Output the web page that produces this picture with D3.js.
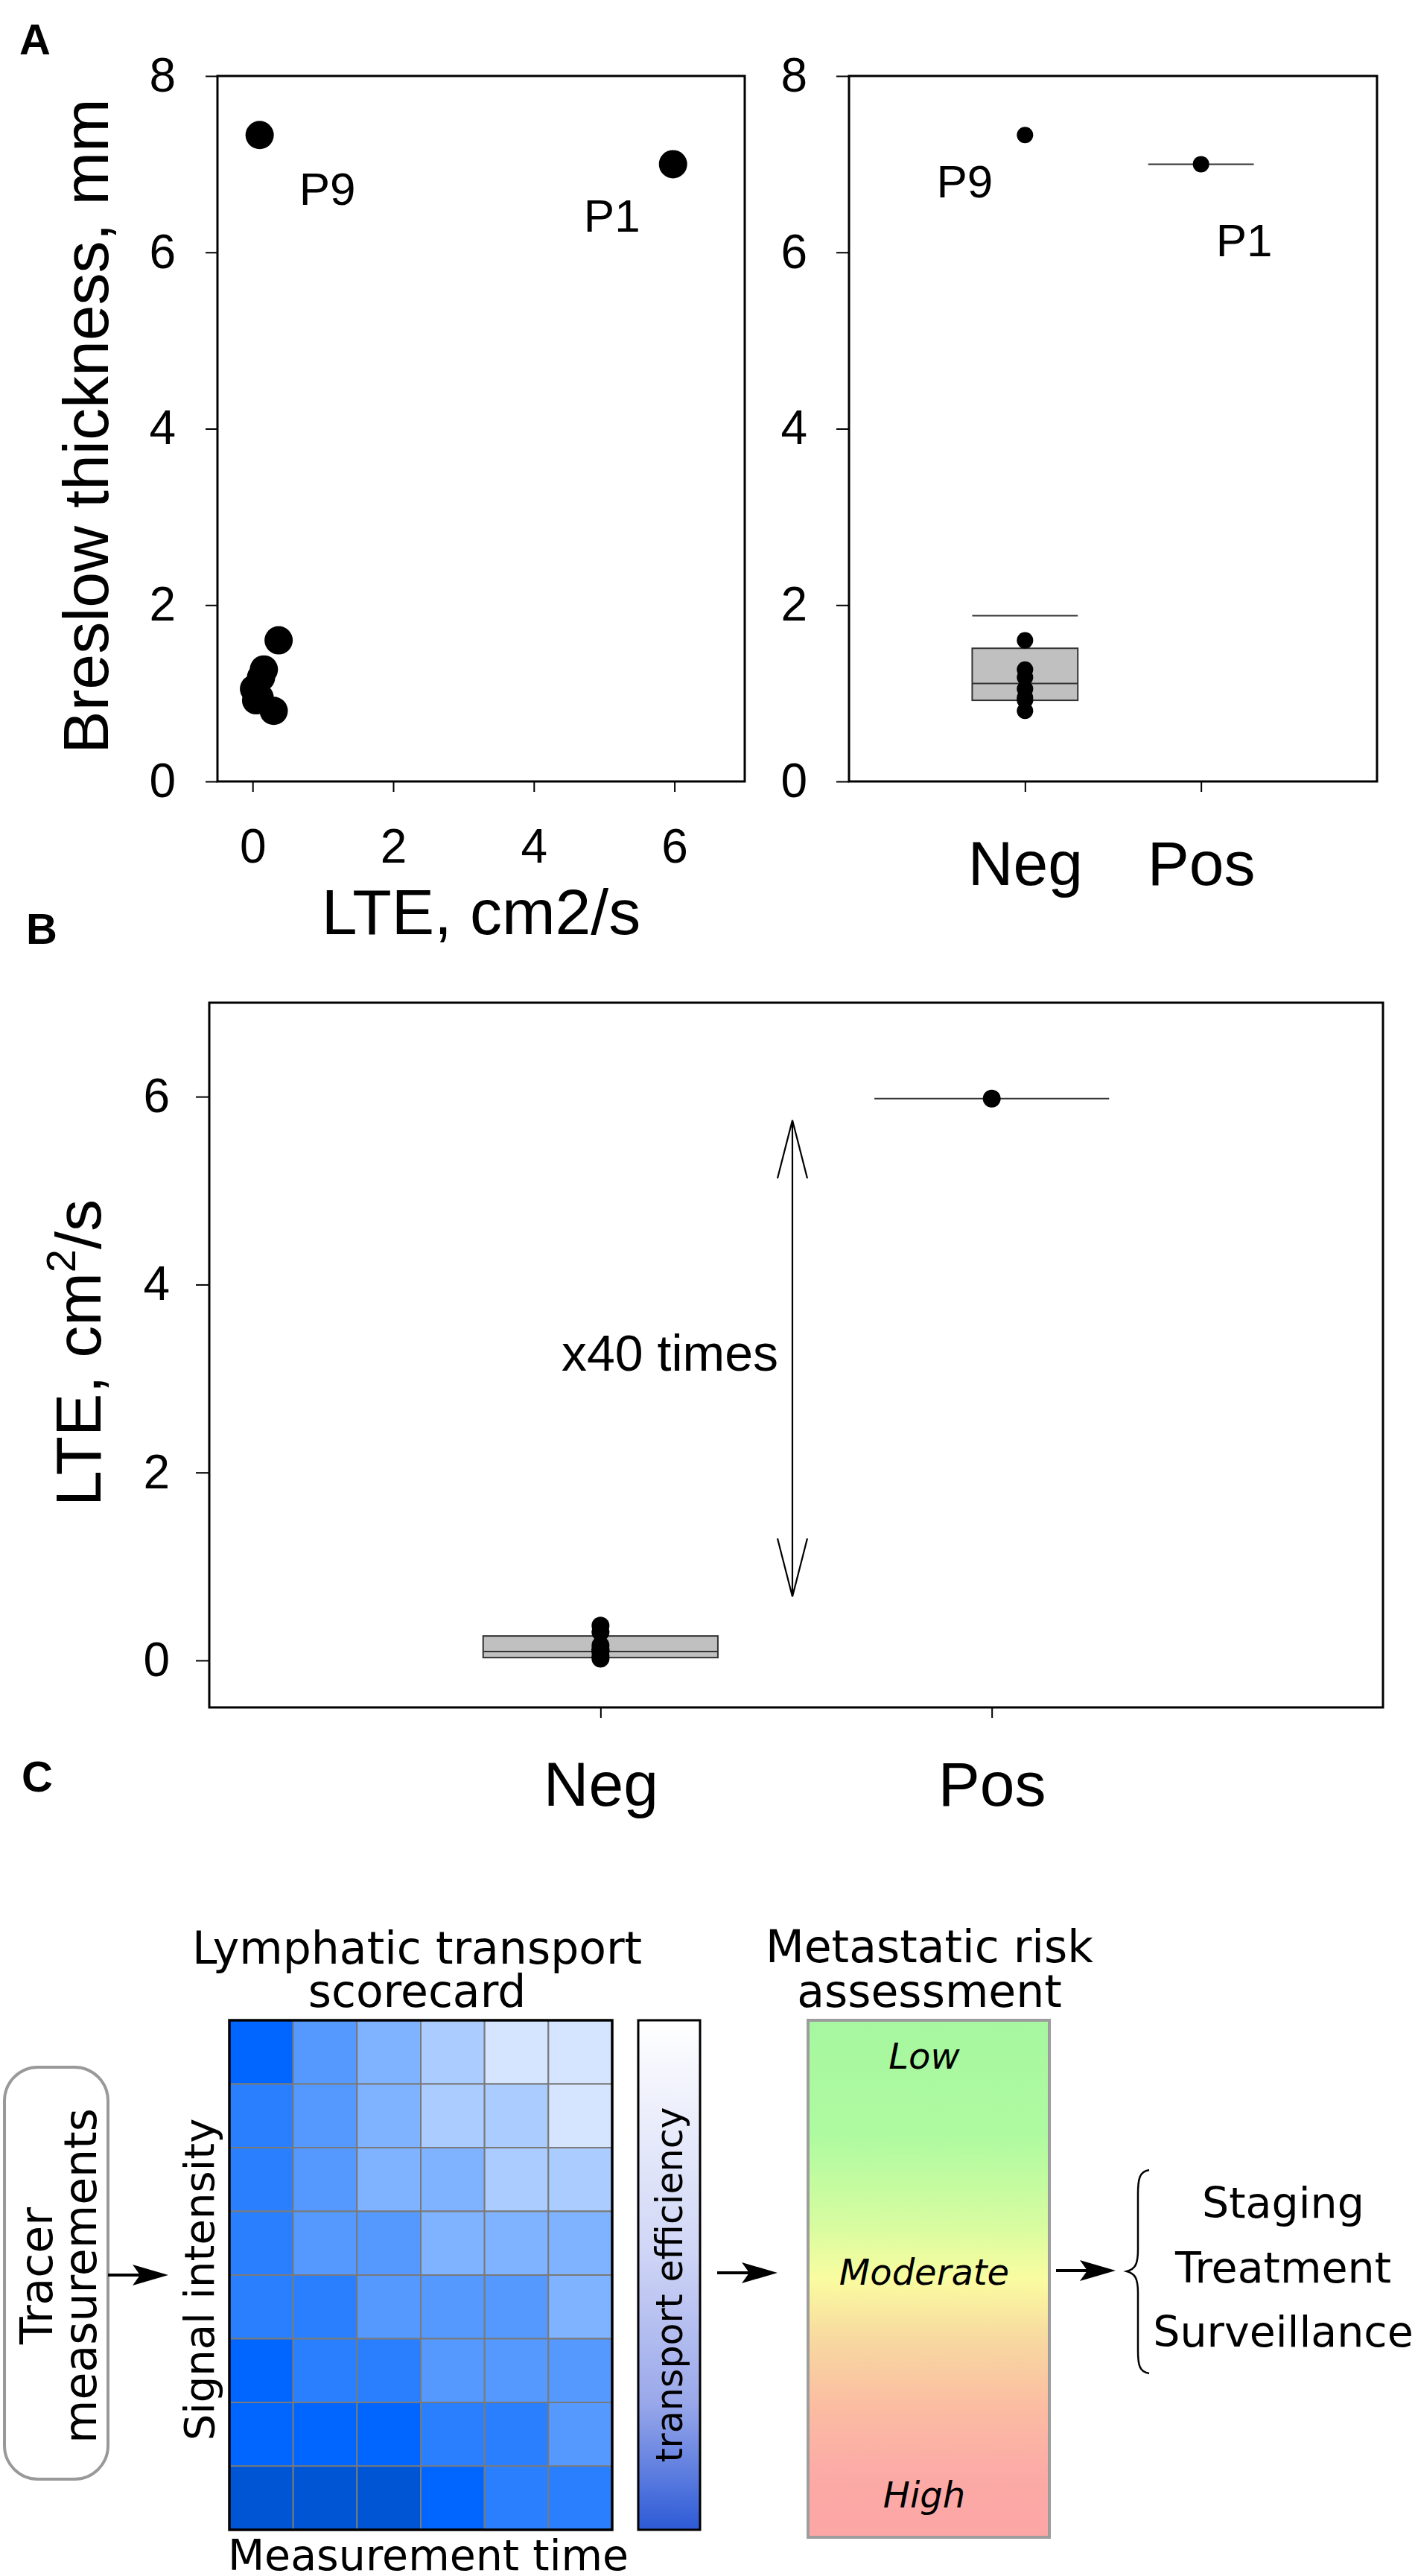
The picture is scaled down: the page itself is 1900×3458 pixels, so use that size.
<!DOCTYPE html>
<html>
<head>
<meta charset="utf-8">
<script src="https://cdn.jsdelivr.net/npm/d3@7"></script>
<style>
    body { margin: 0; background: #fff; }
    svg { display: block; }
</style>
</head>
<body>
<svg id="fig" width="1900" height="3458"></svg>
<script>
const FIG = d3.select('#fig');

// patients, lymph node status, LTE (cm2/s) and Breslow thickness (mm)
const patientIds = ['P1', 'P2', 'P3', 'P4', 'P5', 'P6', 'P7', 'P8', 'P9'];
const nodeStatus = ['Pos', 'Neg', 'Neg', 'Neg', 'Neg', 'Neg', 'Neg', 'Neg', 'Neg'];
const lteValues = [5.98, 0.37, 0.16, 0.12, 0.02, 0.05, 0.30, 0.10, 0.10];
const breslowValues = [7.0, 1.60, 1.27, 1.18, 1.05, 0.92, 0.80, 0.95, 7.33];
const labelled = ['P1', 'P9'];

const groups = ['Neg', 'Pos'];
// q1, median, q3 of the Neg box, plus the upper line drawn above it
const breslowBoxNeg = [0.92, 1.11, 1.51];
const breslowCapNeg = 1.88;
const lteBoxNeg = [0.03, 0.095, 0.26];

const breslowTicks = [0, 2, 4, 6, 8];
const lteTicksA = [0, 2, 4, 6];
const lteTicksB = [0, 2, 4, 6];
const foldLabel = 'x40 times';
const foldRange = [0.68, 5.75];

// scorecard levels (0 = darkest), rows top to bottom, columns = measurement time
const scoreRows = [
    [1, 3, 4, 5, 6, 6],
    [2, 3, 4, 5, 5, 6],
    [2, 3, 4, 4, 5, 5],
    [2, 3, 3, 4, 4, 4],
    [2, 2, 3, 3, 3, 4],
    [1, 2, 2, 3, 3, 3],
    [1, 1, 1, 2, 2, 3],
    [0, 0, 0, 1, 2, 2]
];
const scoreColours = ['#0055d4', '#0066ff', '#2a7fff', '#5599ff', '#80b3ff', '#aaccff', '#d5e5ff'];
const riskLevels = ['Low', 'Moderate', 'High'];
const outcomes = ['Staging', 'Treatment', 'Surveillance'];

const SANS = "'Liberation Sans', Arial, sans-serif";
const DEJA = "'DejaVu Sans', sans-serif";

const patients = patientIds.map((id, i) => ({
    id: id, status: nodeStatus[i], lte: lteValues[i], breslow: breslowValues[i]
}));

// defs
const defs = FIG.append('defs');
const riskGrad = defs.append('linearGradient').attr('id', 'riskGrad')
    .attr('x1', 0).attr('y1', 0).attr('x2', 0).attr('y2', 1);
[[0, '#a6f7a0'], [0.22, '#aefaa0'], [0.4, '#d8fca0'], [0.5, '#fafca0'],
 [0.62, '#f8d8a0'], [0.75, '#fbbca2'], [0.88, '#fcaaa6'], [1, '#fca6a6']]
    .forEach(s => riskGrad.append('stop').attr('offset', s[0]).attr('stop-color', s[1]));
const effGrad = defs.append('linearGradient').attr('id', 'effGrad')
    .attr('x1', 0).attr('y1', 0).attr('x2', 0).attr('y2', 1);
[[0, '#ffffff'], [0.45, '#d0d6f6'], [0.75, '#9aa8ea'], [1, '#2c5ad6']]
    .forEach(s => effGrad.append('stop').attr('offset', s[0]).attr('stop-color', s[1]));

function styleAxis(g, size) {
    g.select('.domain').remove();
    g.selectAll('line').attr('stroke', '#000').attr('stroke-width', 2);
    g.selectAll('text').attr('font-family', SANS).attr('font-size', size).attr('fill', '#000');
}

function frame(x0, x1, y0, y1) {
    FIG.append('rect')
        .attr('x', x0).attr('y', y0)
        .attr('width', x1 - x0).attr('height', y1 - y0)
        .attr('fill', 'none').attr('stroke', '#000').attr('stroke-width', 3);
}

function panelLetter(t, x, y) {
    FIG.append('text').attr('x', x).attr('y', y).text(t)
        .attr('font-family', SANS).attr('font-weight', 'bold').attr('font-size', 58);
}

// ---------- panel A, left: scatter ----------
const xA = d3.scaleLinear().domain([-0.5, 7]).range([292, 1000]);
const yA = d3.scaleLinear().domain([0, 8]).range([1049, 102]);

FIG.append('g').attr('transform', 'translate(292,0)')
    .call(d3.axisLeft(yA).tickValues(breslowTicks).tickSize(16).tickPadding(40))
    .call(g => styleAxis(g, 64));
FIG.append('g').attr('transform', 'translate(0,1049)')
    .call(d3.axisBottom(xA).tickValues(lteTicksA).tickSize(14).tickPadding(50))
    .call(g => styleAxis(g, 64));
frame(292, 1000, 102, 1049);

FIG.append('g').selectAll('circle')
    .data(patients)
    .join('circle')
    .attr('cx', d => xA(d.lte))
    .attr('cy', d => yA(d.breslow))
    .attr('r', 19)
    .attr('fill', '#000');

// label offsets in pixels from the point
const labA = { P9: [91, 94], P1: [-82, 91] };
FIG.append('g').selectAll('text')
    .data(patients.filter(d => labelled.includes(d.id)))
    .join('text')
    .attr('x', d => xA(d.lte) + labA[d.id][0])
    .attr('y', d => yA(d.breslow) + labA[d.id][1])
    .attr('text-anchor', 'middle')
    .attr('font-family', SANS).attr('font-size', 62)
    .text(d => d.id);

FIG.append('text')
    .attr('transform', 'translate(145,572) rotate(-90)')
    .attr('text-anchor', 'middle')
    .attr('font-family', SANS).attr('font-size', 86)
    .text('Breslow thickness, mm');
FIG.append('text')
    .attr('x', 646).attr('y', 1254)
    .attr('text-anchor', 'middle')
    .attr('font-family', SANS).attr('font-size', 86)
    .text('LTE, cm2/s');

// ---------- panel A, right: Breslow by node status ----------
const xG = d3.scaleLinear().domain([0, 3]).range([1140, 1849]);
const groupPos = g => xG(groups.indexOf(g) + 1);

FIG.append('g').attr('transform', 'translate(1140,0)')
    .call(d3.axisLeft(yA).tickValues(breslowTicks).tickSize(17).tickPadding(39))
    .call(g => styleAxis(g, 64));
FIG.append('g').attr('transform', 'translate(0,1049)')
    .call(d3.axisBottom(xG).tickValues([1, 2]).tickFormat(v => groups[v - 1]).tickSize(14).tickPadding(65))
    .call(g => styleAxis(g, 84));
frame(1140, 1849, 102, 1049);

const negA = FIG.append('g');
negA.append('rect')
    .attr('x', xG(0.7)).attr('width', xG(1.3) - xG(0.7))
    .attr('y', yA(breslowBoxNeg[2])).attr('height', yA(breslowBoxNeg[0]) - yA(breslowBoxNeg[2]))
    .attr('fill', '#c0c0c0').attr('stroke', '#333').attr('stroke-width', 2);
negA.append('line')
    .attr('x1', xG(0.7)).attr('x2', xG(1.3))
    .attr('y1', yA(breslowBoxNeg[1])).attr('y2', yA(breslowBoxNeg[1]))
    .attr('stroke', '#333').attr('stroke-width', 2);
negA.append('line')
    .attr('x1', xG(0.7)).attr('x2', xG(1.3))
    .attr('y1', yA(breslowCapNeg)).attr('y2', yA(breslowCapNeg))
    .attr('stroke', '#333').attr('stroke-width', 2);
FIG.append('line')
    .attr('x1', xG(1.7)).attr('x2', xG(2.3))
    .attr('y1', yA(patients[0].breslow)).attr('y2', yA(patients[0].breslow))
    .attr('stroke', '#333').attr('stroke-width', 2);

FIG.append('g').selectAll('circle')
    .data(patients)
    .join('circle')
    .attr('cx', d => groupPos(d.status))
    .attr('cy', d => yA(d.breslow))
    .attr('r', 11)
    .attr('fill', '#000');

const labAR = { P9: [-81, 84], P1: [58, 124] };
FIG.append('g').selectAll('text')
    .data(patients.filter(d => labelled.includes(d.id)))
    .join('text')
    .attr('x', d => groupPos(d.status) + labAR[d.id][0])
    .attr('y', d => yA(d.breslow) + labAR[d.id][1])
    .attr('text-anchor', 'middle')
    .attr('font-family', SANS).attr('font-size', 62)
    .text(d => d.id);

// ---------- panel B: LTE by node status ----------
const xB = d3.scaleLinear().domain([0, 3]).range([281, 1857]);
const yB = d3.scaleLinear().domain([-0.5, 7]).range([2292, 1346]);

FIG.append('g').attr('transform', 'translate(281,0)')
    .call(d3.axisLeft(yB).tickValues(lteTicksB).tickSize(18).tickPadding(35))
    .call(g => styleAxis(g, 64));
FIG.append('g').attr('transform', 'translate(0,2292)')
    .call(d3.axisBottom(xB).tickValues([1, 2]).tickFormat(v => groups[v - 1]).tickSize(14).tickPadding(58))
    .call(g => styleAxis(g, 84));
frame(281, 1857, 1346, 2292);

const negB = FIG.append('g');
negB.append('rect')
    .attr('x', xB(0.7)).attr('width', xB(1.3) - xB(0.7))
    .attr('y', yB(lteBoxNeg[2])).attr('height', yB(lteBoxNeg[0]) - yB(lteBoxNeg[2]))
    .attr('fill', '#c0c0c0').attr('stroke', '#333').attr('stroke-width', 2);
negB.append('line')
    .attr('x1', xB(0.7)).attr('x2', xB(1.3))
    .attr('y1', yB(lteBoxNeg[1])).attr('y2', yB(lteBoxNeg[1]))
    .attr('stroke', '#333').attr('stroke-width', 2);
FIG.append('line')
    .attr('x1', xB(1.7)).attr('x2', xB(2.3))
    .attr('y1', yB(patients[0].lte)).attr('y2', yB(patients[0].lte))
    .attr('stroke', '#333').attr('stroke-width', 2);

FIG.append('g').selectAll('circle')
    .data(patients)
    .join('circle')
    .attr('cx', d => xB(groups.indexOf(d.status) + 1))
    .attr('cy', d => yB(d.lte))
    .attr('r', 12)
    .attr('fill', '#000');

// fold-change arrow
const arrowX = 1064;
const yTop = yB(foldRange[1]), yBot = yB(foldRange[0]);
FIG.append('path')
    .attr('d', `M${arrowX},${yTop}V${yBot}` +
        `M${arrowX - 20},${yTop + 78}L${arrowX},${yTop}L${arrowX + 20},${yTop + 78}` +
        `M${arrowX - 20},${yBot - 78}L${arrowX},${yBot}L${arrowX + 20},${yBot - 78}`)
    .attr('fill', 'none').attr('stroke', '#000').attr('stroke-width', 2.2);
FIG.append('text')
    .attr('x', 1045).attr('y', 1840)
    .attr('text-anchor', 'end')
    .attr('font-family', SANS).attr('font-size', 68)
    .text(foldLabel);

const lbB = FIG.append('text')
    .attr('transform', 'translate(135,1816) rotate(-90)')
    .attr('text-anchor', 'middle')
    .attr('font-family', SANS).attr('font-size', 86);
lbB.append('tspan').text('LTE, cm');
lbB.append('tspan').attr('font-size', 56).attr('dy', -34).text('2');
lbB.append('tspan').attr('dy', 34).text('/s');

panelLetter('A', 26, 73);
panelLetter('B', 35, 1267);
panelLetter('C', 29, 2405);

// ---------- panel C: scheme ----------
function arrowRight(x1, x2, y) {
    FIG.append('line').attr('x1', x1).attr('x2', x2 - 30).attr('y1', y).attr('y2', y)
        .attr('stroke', '#000').attr('stroke-width', 4);
    FIG.append('path')
        .attr('d', `M${x2},${y}L${x2 - 48},${y - 14}L${x2 - 38},${y}L${x2 - 48},${y + 14}Z`)
        .attr('fill', '#000');
}

function cText(t, x, y, size) {
    return FIG.append('text').attr('x', x).attr('y', y)
        .attr('text-anchor', 'middle')
        .attr('font-family', DEJA).attr('font-size', size)
        .text(t);
}

// tracer box
FIG.append('rect')
    .attr('x', 6).attr('y', 2775).attr('width', 139).attr('height', 553)
    .attr('rx', 45).attr('ry', 45)
    .attr('fill', '#fff').attr('stroke', '#999').attr('stroke-width', 4);
FIG.append('text')
    .attr('transform', 'translate(70,3055) rotate(-90)')
    .attr('text-anchor', 'middle').attr('font-family', DEJA).attr('font-size', 60)
    .text('Tracer');
FIG.append('text')
    .attr('transform', 'translate(129,3055) rotate(-90)')
    .attr('text-anchor', 'middle').attr('font-family', DEJA).attr('font-size', 60)
    .text('measurements');
arrowRight(145, 226, 3054);

// scorecard heatmap
const colX = d3.scaleBand().domain(d3.range(scoreRows[0].length)).range([308, 822]);
const rowY = d3.scaleBand().domain(d3.range(scoreRows.length)).range([2712, 3396]);
const scoreColour = d3.scaleOrdinal().domain(d3.range(scoreColours.length)).range(scoreColours);

const cells = [];
scoreRows.forEach((row, r) => row.forEach((v, c) => cells.push({ r: r, c: c, v: v })));
FIG.append('g').selectAll('rect')
    .data(cells)
    .join('rect')
    .attr('x', d => colX(d.c))
    .attr('y', d => rowY(d.r))
    .attr('width', colX.bandwidth())
    .attr('height', rowY.bandwidth())
    .attr('fill', d => scoreColour(d.v))
    .attr('stroke', '#7a7a7a').attr('stroke-width', 2);
FIG.append('rect')
    .attr('x', 308).attr('y', 2712).attr('width', 514).attr('height', 684)
    .attr('fill', 'none').attr('stroke', '#000').attr('stroke-width', 3.5);

cText('Lymphatic transport', 560, 2636, 60);
cText('scorecard', 560, 2694, 60);
cText('Measurement time', 575, 3450, 57);
FIG.append('text')
    .attr('transform', 'translate(287,3060) rotate(-90)')
    .attr('text-anchor', 'middle').attr('font-family', DEJA).attr('font-size', 56)
    .text('Signal intensity');

// efficiency colour bar
FIG.append('rect')
    .attr('x', 857).attr('y', 2712).attr('width', 83).attr('height', 684)
    .attr('fill', 'url(#effGrad)').attr('stroke', '#000').attr('stroke-width', 3);
FIG.append('text')
    .attr('transform', 'translate(916,3067) rotate(-90)')
    .attr('text-anchor', 'middle').attr('font-family', DEJA).attr('font-size', 49)
    .text('transport efficiency');

arrowRight(963, 1044, 3051);

// risk assessment bar
cText('Metastatic risk', 1248, 2634, 60);
cText('assessment', 1248, 2694, 60);
FIG.append('rect')
    .attr('x', 1085).attr('y', 2712).attr('width', 324).attr('height', 694)
    .attr('fill', 'url(#riskGrad)').attr('stroke', '#9d9d9d').attr('stroke-width', 4);
const riskY = d3.scalePoint().domain(riskLevels).range([2777, 3366]);
FIG.append('g').selectAll('text')
    .data(riskLevels)
    .join('text')
    .attr('x', 1241)
    .attr('y', d => riskY(d) + (d === 'Moderate' ? -5 : 0))
    .attr('text-anchor', 'middle')
    .attr('font-family', DEJA).attr('font-style', 'italic').attr('font-size', 48)
    .text(d => d);

arrowRight(1418, 1498, 3048);

// brace and outcomes
FIG.append('path')
    .attr('d', 'M1543,2913 C1530,2915 1528,2925 1528,2945 L1528,3020 C1528,3040 1524,3046 1513,3049' +
        ' C1524,3052 1528,3058 1528,3078 L1528,3155 C1528,3175 1530,3184 1543,3186')
    .attr('fill', 'none').attr('stroke', '#000').attr('stroke-width', 2.5);
const outY = d3.scalePoint().domain(outcomes).range([2977, 3150]);
FIG.append('g').selectAll('text')
    .data(outcomes)
    .join('text')
    .attr('x', 1723)
    .attr('y', d => outY(d))
    .attr('text-anchor', 'middle')
    .attr('font-family', DEJA).attr('font-size', 57)
    .text(d => d);
</script>
</body>
</html>
